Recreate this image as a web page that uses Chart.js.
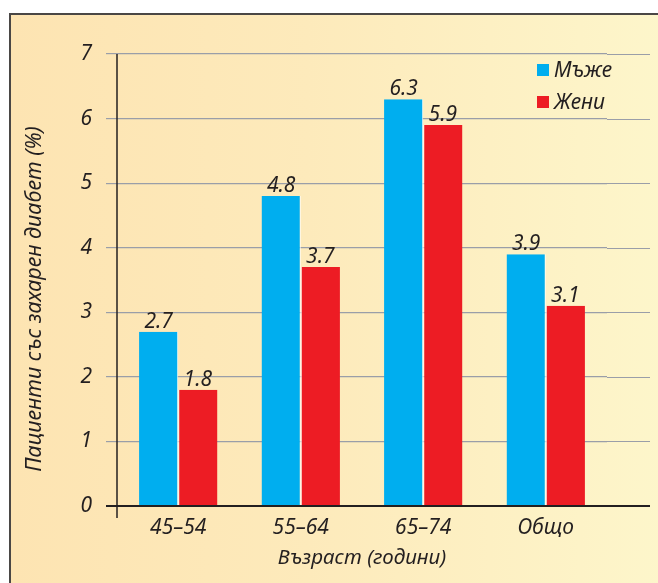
<!DOCTYPE html>
<html>
<head>
<meta charset="utf-8">
<script src="https://cdn.jsdelivr.net/npm/chart.js@4.4.1/dist/chart.umd.min.js"></script>
<style>
  html, body { margin: 0; padding: 0; background: #fff; }
  #wrap { position: relative; width: 658px; height: 583px; overflow: hidden; }
  #frame {
    position: absolute; left: 9px; top: 13px; width: 660px; height: 580px;
    border-top: 2px solid #4a4745; border-left: 2px solid #4a4745;
    background: linear-gradient(to right, #fde4b2 0%, #fdeabb 45%, #fdf6cb 100%);
  }
  #chart { position: absolute; left: 0; top: 0; }
</style>
</head>
<body>
<div id="wrap">
  <div id="frame"></div>
  <canvas id="chart" width="658" height="583"></canvas>
</div>
<script>
const ageGroups = ["45–54", "55–64", "65–74", "Общо"];
const men = [2.7, 4.8, 6.3, 3.9];
const women = [1.8, 3.7, 5.9, 3.1];
const seriesNames = ["Мъже", "Жени"];
const yTitle = "Пациенти със захарен диабет (%)";
const xTitle = "Възраст (години)";

const BLUE = "#00aeef";
const RED = "#ed1c24";
const INK = "#231f20";
const FONT = "'Noto Sans', sans-serif";

// grid lines run past the plot on the right, axis runs below zero,
// value labels over bars, the legend and the rotated y title
const extras = {
  id: "extras",
  beforeDatasetsDraw(chart) {
    const { ctx, chartArea, scales: { y } } = chart;
    ctx.save();
    ctx.strokeStyle = "#9a9ea8";
    ctx.lineWidth = 1.2;
    y.ticks.forEach(t => {
      if (t.value === 0) return;
      const py = Math.round(y.getPixelForValue(t.value)) + 0.5;
      ctx.beginPath();
      ctx.moveTo(chartArea.right, py);
      ctx.lineTo(chart.width - 8, py);
      ctx.stroke();
    });
    ctx.restore();
  },
  afterDatasetsDraw(chart) {
    const { ctx, chartArea, scales: { y } } = chart;
    ctx.save();
    // baseline and vertical axis
    const y0 = y.getPixelForValue(0);
    ctx.strokeStyle = INK;
    ctx.lineWidth = 2;
    ctx.beginPath();
    ctx.moveTo(chartArea.left - 11, y0);
    ctx.lineTo(chart.width - 8, y0);
    ctx.stroke();
    ctx.lineWidth = 1.5;
    ctx.beginPath();
    ctx.moveTo(chartArea.left, y.getPixelForValue(7));
    ctx.lineTo(chartArea.left, y0 + 12);
    ctx.stroke();

    // values above bars
    ctx.fillStyle = INK;
    ctx.font = "italic 21px " + FONT;
    ctx.textAlign = "center";
    ctx.textBaseline = "alphabetic";
    chart.data.datasets.forEach((ds, i) => {
      chart.getDatasetMeta(i).data.forEach((bar, j) => {
        ctx.fillText(ds.data[j].toFixed(1), bar.x, bar.y - 4);
      });
    });

    // legend
    ctx.textAlign = "left";
    ctx.textBaseline = "middle";
    chart.data.datasets.forEach((ds, i) => {
      const ly = 70 + i * 32;
      ctx.fillStyle = ds.backgroundColor;
      ctx.fillRect(537, ly - 6, 12, 12);
      ctx.fillStyle = INK;
      ctx.fillText(ds.label, 554, ly + 1);
    });

    // y title
    ctx.translate(35, 299);
    ctx.rotate(-Math.PI / 2);
    ctx.textAlign = "center";
    ctx.font = "italic 21.5px " + FONT;
    ctx.fillText(yTitle, 0, 0);
    ctx.restore();
  }
};

new Chart(document.getElementById("chart"), {
  type: "bar",
  data: {
    labels: ageGroups,
    datasets: [
      {
        label: seriesNames[0],
        data: men,
        backgroundColor: BLUE,
        borderColor: "#ffffff",
        borderWidth: { left: 0, right: 1, top: 0, bottom: 0 },
        borderSkipped: false
      },
      {
        label: seriesNames[1],
        data: women,
        backgroundColor: RED,
        borderColor: "#ffffff",
        borderWidth: { left: 1, right: 0, top: 0, bottom: 0 },
        borderSkipped: false
      }
    ]
  },
  options: {
    responsive: false,
    animation: false,
    devicePixelRatio: 1,
    layout: { padding: { top: 54, right: 51, left: 0, bottom: 0 } },
    plugins: {
      legend: { display: false },
      tooltip: { enabled: false }
    },
    datasets: {
      bar: { categoryPercentage: 0.64, barPercentage: 1 }
    },
    scales: {
      x: {
        afterFit(scale) { scale.height = 77; },
        grid: { display: false, drawTicks: false },
        border: { display: false },
        ticks: {
          color: INK,
          padding: 9,
          font: { family: FONT, size: 21, style: "italic" }
        },
        title: {
          display: true,
          text: xTitle,
          color: INK,
          padding: { top: 0, bottom: 13 },
          font: { family: FONT, size: 20.5, style: "italic" }
        }
      },
      y: {
        min: 0,
        max: 7,
        afterFit(scale) { scale.width = 117; },
        ticks: {
          stepSize: 1,
          color: INK,
          padding: 14,
          font: { family: FONT, size: 21, style: "italic" }
        },
        grid: {
          color: "#9a9ea8",
          lineWidth: 1.2,
          tickLength: 11
        },
        border: { display: false }
      }
    }
  },
  plugins: [extras]
});
</script>
</body>
</html>
